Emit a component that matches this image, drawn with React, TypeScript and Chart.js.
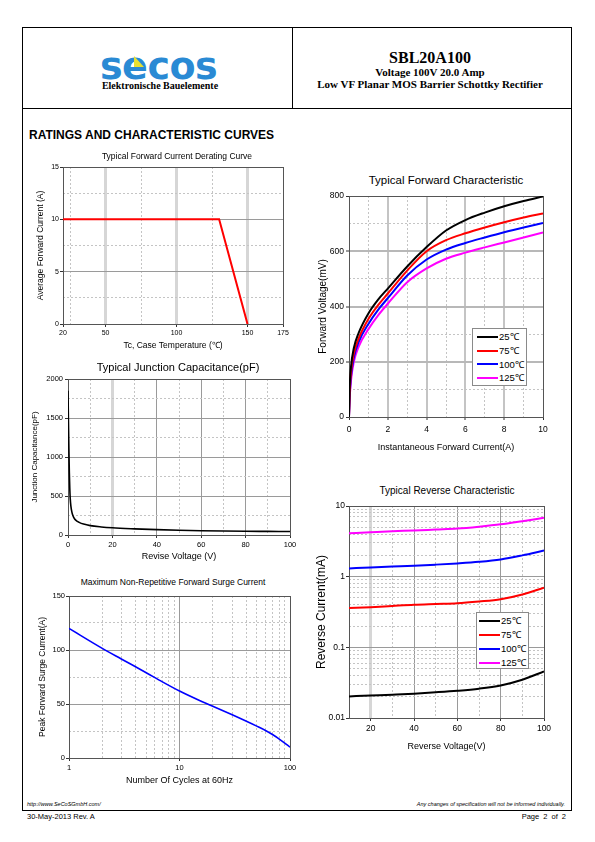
import React, { useEffect, useRef } from "react";
import { Chart, registerables } from "chart.js";
Chart.register(...registerables);

const SANS = "'Liberation Sans', Arial, Helvetica, sans-serif";
const SERIF = "'Liberation Serif', 'Times New Roman', serif";

// ---------- Series labels (shared by the two right-hand charts)
const seriesLabels = ["25℃", "75℃", "100℃", "125℃"];
const seriesColors = ["#000000", "#ff0000", "#0000ff", "#ff00ff"];

// ---------- Chart 1: derating
const derateTitle = "Typical Forward Current Derating Curve";
const derateTempC = [20, 130, 150];
const derateAmps = [10, 10, 0];
const derateXLabels = [20, 50, 100, 150, 175];
const derateXMinor = [25, 75, 125];
const derateYLabels = [0, 5, 10, 15];
const derateYMinor = [2.5, 7.5, 12.5];

// ---------- Chart 2: junction capacitance
const capTitle = "Typical Junction Capacitance(pF)";
const capVolts = [0, 0.2, 0.4, 0.6, 0.8, 1, 1.3, 1.7, 2.2, 3, 4, 5, 7, 10, 15, 20, 30, 40, 50, 60, 70, 80, 90, 100];
const capPf = [1850, 1450, 1100, 800, 600, 470, 370, 300, 250, 205, 178, 162, 140, 120, 103, 92, 79, 69, 61, 55, 51, 48, 46, 44];
const capXLabels = [0, 20, 40, 60, 80, 100];
const capXMinor = [10, 30, 50, 70, 90];
const capYLabels = [0, 500, 1000, 1500, 2000];
const capYMinor = [250, 750, 1250, 1750];

// ---------- Chart 3: surge current
const surgeTitle = "Maximum Non-Repetitive Forward Surge Current";
const surgeCycles = [1, 2, 3, 5, 7, 10, 15, 20, 30, 50, 60, 70, 80, 100];
const surgeAmps = [120, 101.5, 91.5, 79, 70.5, 62, 53.5, 48, 40, 29.5, 25.5, 21.5, 17.5, 10];
const surgeXLabels = [1, 10, 100];
const surgeXMinor = [2, 3, 4, 5, 6, 7, 8, 9, 20, 30, 40, 50, 60, 70, 80, 90];
const surgeYLabels = [0, 50, 100, 150];
const surgeYMinor = [25, 75, 125];

// ---------- Chart 4: forward characteristic
const fwdTitle = "Typical Forward Characteristic";
const fwdAmps = [0, 0.03, 0.1, 0.25, 0.5, 1, 1.5, 2, 3, 4, 5, 6, 7, 8, 9, 10];
const fwd25 = [0, 100, 180, 250, 305, 375, 425, 465, 545, 615, 675, 713, 740, 763, 782, 798];
const fwd75 = [0, 80, 160, 230, 285, 355, 405, 447, 530, 600, 640, 665, 686, 705, 722, 737];
const fwd100 = [0, 70, 145, 215, 272, 337, 388, 430, 512, 570, 606, 630, 650, 669, 686, 702];
const fwd125 = [0, 60, 130, 200, 255, 318, 368, 410, 488, 538, 573, 595, 614, 632, 650, 668];
const fwdXLabels = [0, 2, 4, 6, 8, 10];
const fwdXMinor = [1, 3, 5, 7, 9];
const fwdYLabels = [0, 200, 400, 600, 800];
const fwdYMinor = [100, 300, 500, 700];

// ---------- Chart 5: reverse characteristic
const revTitle = "Typical Reverse Characteristic";
const revVolts = [10, 20, 30, 40, 50, 60, 70, 80, 90, 100];
const rev25 = [0.0202, 0.0208, 0.0214, 0.0221, 0.0231, 0.0243, 0.026, 0.0289, 0.0348, 0.0456];
const rev75 = [0.36, 0.37, 0.385, 0.4, 0.41, 0.42, 0.445, 0.48, 0.56, 0.7];
const rev100 = [1.31, 1.35, 1.39, 1.43, 1.48, 1.54, 1.62, 1.75, 2.0, 2.34];
const rev125 = [4.1, 4.25, 4.4, 4.5, 4.65, 4.8, 5.1, 5.5, 6.1, 6.8];
const revXLabels = [20, 40, 60, 80, 100];
const revXMinor = [30, 50, 70, 90];
const revYLabels = [0.01, 0.1, 1, 10];
const revYMinor = [0.02, 0.03, 0.04, 0.05, 0.06, 0.07, 0.08, 0.09, 0.2, 0.3, 0.4, 0.5, 0.6, 0.7, 0.8, 0.9, 2, 3, 4, 5, 6, 7, 8, 9];

// ---------- helpers
type GridStyle = { color: string; width: number };
const CLEAR = "rgba(0,0,0,0)";

function axis(o: {
  type: "linear" | "logarithmic";
  position: "left" | "bottom";
  min: number;
  max: number;
  labels: number[];
  minor: number[];
  major: (v: number) => GridStyle;
  minorColor: string;
  tickSize: number;
  tickPad: number;
  title: string;
  titleSize: number;
  titlePad: number;
  size: number;
}) {
  const all = [...o.labels, ...o.minor].sort((a, b) => a - b);
  const eq = (a: number, b: number) => Math.abs(a - b) < 1e-9 * Math.max(1, Math.abs(b));
  const isLabel = (v: number) => o.labels.some((l) => eq(l, v));
  const isEdge = (v: number) => eq(v, o.min) || eq(v, o.max);
  return {
    type: o.type,
    position: o.position,
    min: o.min,
    max: o.max,
    afterBuildTicks: (s: any) => {
      s.ticks = all.map((v) => ({ value: v }));
    },
    afterFit: (s: any) => {
      if (o.position === "left") s.width = o.size;
      else s.height = o.size;
    },
    ticks: {
      autoSkip: false,
      maxRotation: 0,
      minRotation: 0,
      padding: o.tickPad,
      color: "#000",
      font: { family: SANS, size: o.tickSize },
      callback: (v: any) => (isLabel(Number(v)) ? String(v) : ""),
    },
    grid: {
      drawTicks: true,
      tickLength: 3,
      tickWidth: 1,
      color: (c: any) => {
        const v = c.tick ? c.tick.value : undefined;
        if (v === undefined || isEdge(v)) return CLEAR;
        return isLabel(v) ? o.major(v).color : o.minorColor;
      },
      lineWidth: (c: any) => {
        const v = c.tick ? c.tick.value : undefined;
        if (v === undefined || isEdge(v)) return 1;
        return isLabel(v) ? o.major(v).width : 1;
      },
      tickColor: (c: any) => {
        const v = c.tick ? c.tick.value : undefined;
        return v !== undefined && isLabel(v) ? "#333" : CLEAR;
      },
    },
    border: {
      display: false,
      dash: (c: any) => {
        const v = c.tick ? c.tick.value : undefined;
        return v !== undefined && !isLabel(v) ? [2, 2] : [];
      },
    },
    title: {
      display: true,
      text: o.title,
      color: "#000",
      font: { family: SANS, size: o.titleSize },
      padding: o.position === "left" ? { top: o.titlePad, bottom: 0 } : { top: 0, bottom: o.titlePad },
    },
  };
}

const plotBox = {
  id: "plotBox",
  beforeDatasetsDraw(chart: any, _a: any, opts: any) {
    const { ctx, chartArea } = chart;
    const { left, top, right, bottom } = chartArea;
    ctx.save();
    ctx.strokeStyle = opts.color || "#444";
    ctx.lineWidth = 1;
    ctx.setLineDash([]);
    ctx.strokeRect(Math.round(left) + 0.5, Math.round(top) + 0.5, Math.round(right - left), Math.round(bottom - top));
    ctx.restore();
  },
};

function series(xs: number[], ys: number[], color: string, width: number, smooth: boolean, label: string) {
  return {
    label,
    data: xs.map((x, i) => ({ x, y: ys[i] })),
    borderColor: color,
    backgroundColor: color,
    borderWidth: width,
    fill: false,
    tension: 0,
    cubicInterpolationMode: smooth ? "monotone" : "default",
    pointRadius: 0,
  };
}

function lineConfig(o: { datasets: any[]; x: any; y: any; padTop: number; padRight: number; boxColor: string }) {
  return {
    type: "line",
    data: { datasets: o.datasets },
    options: {
      animation: false,
      responsive: false,
      events: [],
      layout: { padding: { top: o.padTop, right: o.padRight, left: 0, bottom: 0 } },
      plugins: {
        legend: { display: false },
        tooltip: { enabled: false },
        title: { display: false },
        plotBox: { color: o.boxColor },
      },
      elements: { point: { radius: 0 } },
      scales: { x: o.x, y: o.y },
    },
    plugins: [plotBox],
  };
}

function ChartCanvas(p: { left: number; top: number; width: number; height: number; config: any }) {
  const ref = useRef<HTMLCanvasElement>(null);
  useEffect(() => {
    const chart = new Chart(ref.current as HTMLCanvasElement, p.config);
    return () => chart.destroy();
  }, []);
  return (
    <canvas
      ref={ref}
      width={p.width}
      height={p.height}
      style={{ position: "absolute", left: p.left, top: p.top, width: p.width, height: p.height }}
    />
  );
}

function Txt(p: {
  x: number;
  y: number;
  text: string;
  size: number;
  family?: string;
  weight?: number;
  italic?: boolean;
  align?: "left" | "center" | "right";
  color?: string;
  wordSpacing?: number;
}) {
  const lh = p.size * 1.2;
  const style: any = {
    position: "absolute",
    top: p.y - lh / 2,
    height: lh,
    lineHeight: `${lh}px`,
    fontSize: p.size,
    fontFamily: p.family || SANS,
    fontWeight: p.weight || 400,
    fontStyle: p.italic ? "italic" : "normal",
    whiteSpace: "pre",
    color: p.color || "#000",
    wordSpacing: p.wordSpacing || 0,
    zIndex: 2,
  };
  const align = p.align || "left";
  if (align === "left") style.left = p.x;
  else if (align === "right") style.right = 595 - p.x;
  else {
    style.left = p.x;
    style.transform = "translateX(-50%)";
  }
  return <div style={style}>{p.text}</div>;
}

function Rule(p: { left: number; top: number; width: number; height: number }) {
  return <div style={{ position: "absolute", left: p.left, top: p.top, width: p.width, height: p.height, background: "#000" }} />;
}

function Legend(p: { left: number; top: number; width: number; height: number; rowY: number[]; lineX0: number; lineX1: number; textX: number; size: number }) {
  return (
    <>
      <div
        style={{
          position: "absolute",
          left: p.left,
          top: p.top,
          width: p.width - 2,
          height: p.height - 2,
          border: "1px solid #8a8a8a",
          background: "#fff",
          zIndex: 3,
        }}
      />
      {seriesLabels.map((lab, i) => (
        <React.Fragment key={lab}>
          <div
            style={{
              position: "absolute",
              left: p.lineX0,
              top: p.rowY[i] - 1,
              width: p.lineX1 - p.lineX0,
              height: 2,
              background: seriesColors[i],
              zIndex: 4,
            }}
          />
          <div
            style={{
              position: "absolute",
              left: p.textX,
              top: p.rowY[i] - p.size * 0.6,
              height: p.size * 1.2,
              lineHeight: `${p.size * 1.2}px`,
              fontSize: p.size,
              fontFamily: SANS,
              whiteSpace: "pre",
              color: "#000",
              zIndex: 4,
            }}
          >
            {lab}
          </div>
        </React.Fragment>
      ))}
    </>
  );
}

const minorGrey = "#c4c4c4";

export default function App() {
  // Chart 1 geometry: plot 63..283 x 167..324
  const c1 = lineConfig({
    datasets: [series(derateTempC, derateAmps, "#ff0000", 2, false, "Io")],
    x: axis({
      type: "linear", position: "bottom", min: 20, max: 175, labels: derateXLabels, minor: derateXMinor,
      major: () => ({ color: "#d6d6d6", width: 3 }), minorColor: minorGrey,
      tickSize: 7, tickPad: 2, title: "Tc, Case Temperature (℃)", titleSize: 8.5, titlePad: 4.9, size: 32,
    }),
    y: axis({
      type: "linear", position: "left", min: 0, max: 15, labels: derateYLabels, minor: derateYMinor,
      major: () => ({ color: "#9a9a9a", width: 1 }), minorColor: minorGrey,
      tickSize: 7, tickPad: 1, title: "Average Forward Current (A)", titleSize: 8.5, titlePad: 13.9, size: 41,
    }),
    padTop: 7, padRight: 15, boxColor: "#555",
  });

  // Chart 2 geometry: plot 68..290 x 379..535
  const c2 = lineConfig({
    datasets: [series(capVolts, capPf, "#000000", 1.6, true, "Cj")],
    x: axis({
      type: "linear", position: "bottom", min: 0, max: 100, labels: capXLabels, minor: capXMinor,
      major: (v) => (v === 20 ? { color: "#d6d6d6", width: 3 } : { color: "#9a9a9a", width: 1 }), minorColor: minorGrey,
      tickSize: 7.5, tickPad: 2, title: "Revise Voltage (V)", titleSize: 9, titlePad: 2.9, size: 30,
    }),
    y: axis({
      type: "linear", position: "left", min: 0, max: 2000, labels: capYLabels, minor: capYMinor,
      major: () => ({ color: "#9a9a9a", width: 1 }), minorColor: minorGrey,
      tickSize: 7.5, tickPad: 2, title: "Junction Capacitance(pF)", titleSize: 8, titlePad: 6.2, size: 44,
    }),
    padTop: 7, padRight: 12, boxColor: "#555",
  });

  // Chart 3 geometry: plot 69..290 x 596..758
  const c3 = lineConfig({
    datasets: [series(surgeCycles, surgeAmps, "#0000ff", 1.6, true, "Ifsm")],
    x: axis({
      type: "logarithmic", position: "bottom", min: 1, max: 100, labels: surgeXLabels, minor: surgeXMinor,
      major: () => ({ color: "#9a9a9a", width: 1 }), minorColor: minorGrey,
      tickSize: 7.5, tickPad: 2, title: "Number Of Cycles at 60Hz", titleSize: 9, titlePad: 3.9, size: 32,
    }),
    y: axis({
      type: "linear", position: "left", min: 0, max: 150, labels: surgeYLabels, minor: surgeYMinor,
      major: () => ({ color: "#9a9a9a", width: 1 }), minorColor: minorGrey,
      tickSize: 7.5, tickPad: 1, title: "Peak Forward Surge Current(A)", titleSize: 8.5, titlePad: 13.6, size: 45,
    }),
    padTop: 7, padRight: 12, boxColor: "#555",
  });

  // Chart 4 geometry: plot 349..543 x 196..417
  const fwdSeries = [fwd25, fwd75, fwd100, fwd125];
  const c4 = lineConfig({
    datasets: fwdSeries.map((ys, i) => series(fwdAmps, ys, seriesColors[i], 2, true, seriesLabels[i])),
    x: axis({
      type: "linear", position: "bottom", min: 0, max: 10, labels: fwdXLabels, minor: fwdXMinor,
      major: () => ({ color: "#c4c4c4", width: 2 }), minorColor: minorGrey,
      tickSize: 8.5, tickPad: 4.5, title: "Instantaneous Forward Current(A)", titleSize: 9, titlePad: 4.9, size: 41,
    }),
    y: axis({
      type: "linear", position: "left", min: 0, max: 800, labels: fwdYLabels, minor: fwdYMinor,
      major: () => ({ color: "#b8b8b8", width: 2 }), minorColor: minorGrey,
      tickSize: 8.5, tickPad: 2, title: "Forward Voltage(mV)", titleSize: 10, titlePad: 7, size: 39,
    }),
    padTop: 8, padRight: 13, boxColor: "#555",
  });

  // Chart 5 geometry: plot 349..544 x 506..718
  const revSeries = [rev25, rev75, rev100, rev125];
  const c5 = lineConfig({
    datasets: revSeries.map((ys, i) => series(revVolts, ys, seriesColors[i], 2, true, seriesLabels[i])),
    x: axis({
      type: "linear", position: "bottom", min: 10, max: 100, labels: revXLabels, minor: revXMinor,
      major: (v) => (v === 20 ? { color: "#d6d6d6", width: 3 } : { color: "#9a9a9a", width: 1 }), minorColor: minorGrey,
      tickSize: 8.5, tickPad: 3, title: "Reverse Voltage(V)", titleSize: 9, titlePad: 4.9, size: 39,
    }),
    y: axis({
      type: "logarithmic", position: "left", min: 0.01, max: 10, labels: revYLabels, minor: revYMinor,
      major: () => ({ color: "#9a9a9a", width: 1 }), minorColor: minorGrey,
      tickSize: 8.5, tickPad: 1, title: "Reverse Current(mA)", titleSize: 12, titlePad: 4.8, size: 39,
    }),
    padTop: 8, padRight: 13, boxColor: "#555",
  });

  return (
    <div style={{ position: "absolute", left: 0, top: 0, width: 595, height: 842, background: "#fff", overflow: "hidden" }}>
      {/* page frame */}
      <Rule left={22} top={27} width={550} height={1} />
      <Rule left={22} top={27} width={1} height={784} />
      <Rule left={571} top={27} width={1} height={784} />
      <Rule left={22} top={108} width={550} height={1} />
      <Rule left={292} top={27} width={1} height={82} />
      <Rule left={22} top={810} width={550} height={1} />

      {/* logo */}
      <div
        style={{
          position: "absolute",
          left: 100,
          top: 47,
          fontFamily: "'DejaVu Sans', sans-serif",
          fontWeight: 700,
          fontSize: 38,
          lineHeight: "38px",
          color: "#2a8ad4",
          whiteSpace: "pre",
          letterSpacing: -0.5,
        }}
      >
        secos
      </div>
      <div
        style={{
          position: "absolute",
          left: 134,
          top: 56,
          width: 10,
          height: 11,
          background: "#e8e030",
          clipPath: "polygon(0 0, 100% 100%, 0 100%)",
        }}
      />
      <Txt x={160} y={86} text="Elektronische Bauelemente" size={10} family={SERIF} weight={700} align="center" />

      {/* header right */}
      <Txt x={430} y={57.5} text="SBL20A100" size={16} family={SERIF} weight={700} align="center" />
      <Txt x={430} y={72.5} text="Voltage 100V 20.0 Amp" size={11} family={SERIF} weight={700} align="center" />
      <Txt x={430} y={85} text="Low VF Planar MOS Barrier Schottky Rectifier" size={11} family={SERIF} weight={700} align="center" />

      <Txt x={29} y={135} text="RATINGS AND CHARACTERISTIC CURVES" size={12} weight={700} />

      {/* chart titles */}
      <Txt x={177} y={156.5} text={derateTitle} size={8.5} align="center" />
      <Txt x={178} y={368} text={capTitle} size={11} align="center" />
      <Txt x={173} y={582.5} text={surgeTitle} size={8.5} align="center" />
      <Txt x={446} y={181} text={fwdTitle} size={11.5} align="center" />
      <Txt x={447} y={490.5} text={revTitle} size={10} align="center" />

      <ChartCanvas left={22} top={160} width={298 - 22} height={356 - 160} config={c1} />
      <ChartCanvas left={24} top={372} width={302 - 24} height={565 - 372} config={c2} />
      <ChartCanvas left={24} top={589} width={302 - 24} height={790 - 589} config={c3} />
      <ChartCanvas left={310} top={188} width={556 - 310} height={458 - 188} config={c4} />
      <ChartCanvas left={310} top={498} width={557 - 310} height={757 - 498} config={c5} />

      <Legend left={472} top={328} width={55} height={58} rowY={[337, 350.7, 364.4, 378]} lineX0={477} lineX1={498} textX={499} size={9.5} />
      <Legend left={476} top={612} width={53} height={57} rowY={[621, 635, 649, 663]} lineX0={479} lineX1={500} textX={501} size={9.5} />

      {/* footer */}
      <Txt x={27} y={804} text="http://www.SeCoSGmbH.com/" size={5.5} italic />
      <Txt x={565} y={804} text="Any changes of specification will not be informed individually." size={5.5} italic align="right" />
      <Txt x={27} y={816.5} text="30-May-2013 Rev. A" size={7.5} />
      <Txt x={566} y={816.5} text="Page 2 of 2" size={7.5} align="right" wordSpacing={2} />
    </div>
  );
}
